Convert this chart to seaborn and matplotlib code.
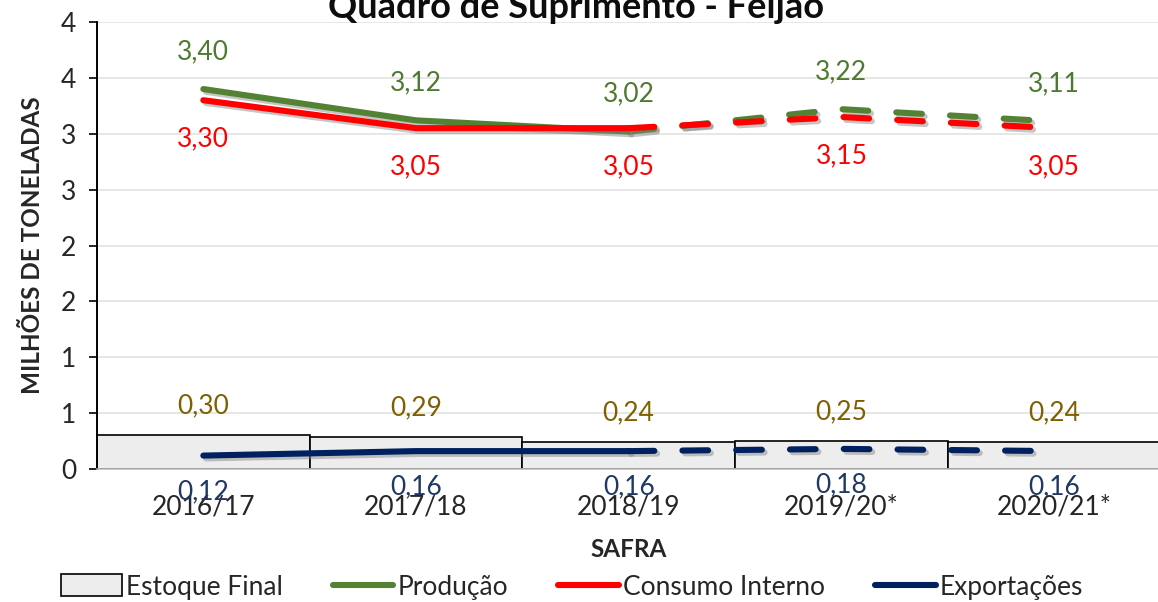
import matplotlib
matplotlib.use("Agg")
import matplotlib.pyplot as plt
import matplotlib.patheffects as pe
from matplotlib.patches import Patch
from matplotlib.lines import Line2D
import pandas as pd
import seaborn as sns

# Dados (milhões de toneladas)
safras = ["2016/17", "2017/18", "2018/19", "2019/20*", "2020/21*"]
estoque_final = [0.30, 0.29, 0.24, 0.25, 0.24]
producao = [3.40, 3.12, 3.02, 3.22, 3.11]
consumo_interno = [3.30, 3.05, 3.05, 3.15, 3.05]
exportacoes = [0.12, 0.16, 0.16, 0.18, 0.16]

y_ticks = [0, 0.5, 1.0, 1.5, 2.0, 2.5, 3.0, 3.5, 4.0]
y_tick_labels = ["0", "1", "1", "2", "2", "3", "3", "4", "4"]

GREEN = "#548235"
RED = "#FF0000"
NAVY = "#002060"
GOLD = "#7F6000"
NAVY_LBL = "#1F3864"

sns.set_theme(style="white")
plt.rcParams["font.family"] = ["Lato", "DejaVu Sans"]

df = pd.DataFrame({
    "safra": safras,
    "pos": range(len(safras)),
    "estoque": estoque_final,
    "producao": producao,
    "consumo": consumo_interno,
    "exportacoes": exportacoes,
})

fig = plt.figure(figsize=(11.58, 6.02), dpi=100)
ax = fig.add_axes([97 / 1158, 1 - 469 / 602, 1.002 - 97 / 1158, (469 - 22) / 602])

# Estoque final (barras)
sns.barplot(data=df, x="safra", y="estoque", width=1.0, color="#EDEDED",
            saturation=1, edgecolor="black", linewidth=1.2, ax=ax, zorder=2)

shadow = [pe.SimpleLineShadow(offset=(2, -2), shadow_color="gray", alpha=0.45), pe.Normal()]


def draw_series(col, color):
    solid = df.iloc[:3]
    dashed = df.iloc[2:]
    sns.lineplot(data=solid, x="pos", y=col, color=color, linewidth=4.4, ax=ax,
                 solid_capstyle="round", zorder=4, path_effects=shadow)
    sns.lineplot(data=dashed, x="pos", y=col, color=color, linewidth=4.4, ax=ax,
                 linestyle=(0, (4.2, 4.6)), dash_capstyle="round", zorder=4,
                 path_effects=shadow)


draw_series("exportacoes", NAVY)
draw_series("producao", GREEN)
draw_series("consumo", RED)


def fmt(v):
    return f"{v:.2f}".replace(".", ",")


lbl_size = 19
for i, row in df.iterrows():
    ax.annotate(fmt(row["producao"]), (row["pos"], row["producao"]), xytext=(0, 27),
                textcoords="offset points", ha="center", va="center",
                color="#4E7A30", fontsize=lbl_size)
    ax.annotate(fmt(row["consumo"]), (row["pos"], row["consumo"]), xytext=(0, -28),
                textcoords="offset points", ha="center", va="center",
                color=RED, fontsize=lbl_size)
    ax.annotate(fmt(row["estoque"]), (row["pos"], row["estoque"]), xytext=(0, 21),
                textcoords="offset points", ha="center", va="center",
                color=GOLD, fontsize=lbl_size)
    ax.annotate(fmt(row["exportacoes"]), (row["pos"], row["exportacoes"]), xytext=(0, -26),
                textcoords="offset points", ha="center", va="center",
                color=NAVY_LBL, fontsize=lbl_size, zorder=6)

ax.set_xlim(-0.5, len(safras) - 0.5)
ax.set_ylim(0, 4.0)
ax.set_yticks(y_ticks)
ax.set_yticklabels(y_tick_labels)
ax.set_xticks(range(len(safras)))
ax.set_xticklabels(safras)
ax.tick_params(axis="y", labelsize=19, length=6, width=1.2, color="black", pad=9, left=True)
ax.tick_params(axis="x", labelsize=19, length=0, pad=18)
ax.yaxis.grid(True, color="#E3E3E3", linewidth=1.2)
ax.set_axisbelow(True)

for side in ["top", "right"]:
    ax.spines[side].set_visible(False)
ax.spines["left"].set_color("black")
ax.spines["left"].set_linewidth(1.4)
ax.spines["bottom"].set_color("#BFBFBF")
ax.spines["bottom"].set_linewidth(1.2)

ax.set_xlabel("SAFRA", fontsize=17.5, fontweight="bold", labelpad=14)
ax.set_ylabel("MILHÕES DE TONELADAS", fontsize=17.5, fontweight="bold", labelpad=12)

fig.text(0.497, 1 - 18 / 602, "Quadro de Suprimento - Feijão", ha="center",
         va="baseline", fontsize=26, fontweight="bold", color="#0D0D0D")

handles = [
    Patch(facecolor="#EDEDED", edgecolor="black", linewidth=1.2, label="Estoque Final"),
    Line2D([], [], color=GREEN, linewidth=4.4, solid_capstyle="round", label="Produção"),
    Line2D([], [], color=RED, linewidth=4.4, solid_capstyle="round", label="Consumo Interno"),
    Line2D([], [], color=NAVY, linewidth=4.4, solid_capstyle="round", label="Exportações"),
]
fig.legend(handles=handles, loc="center", bbox_to_anchor=(0.494, 1 - 587 / 602), ncol=4,
           frameon=False, fontsize=19, handlelength=2.3, handleheight=0.9,
           handletextpad=0.15, columnspacing=1.9)

fig.savefig("out.png", dpi=100)
